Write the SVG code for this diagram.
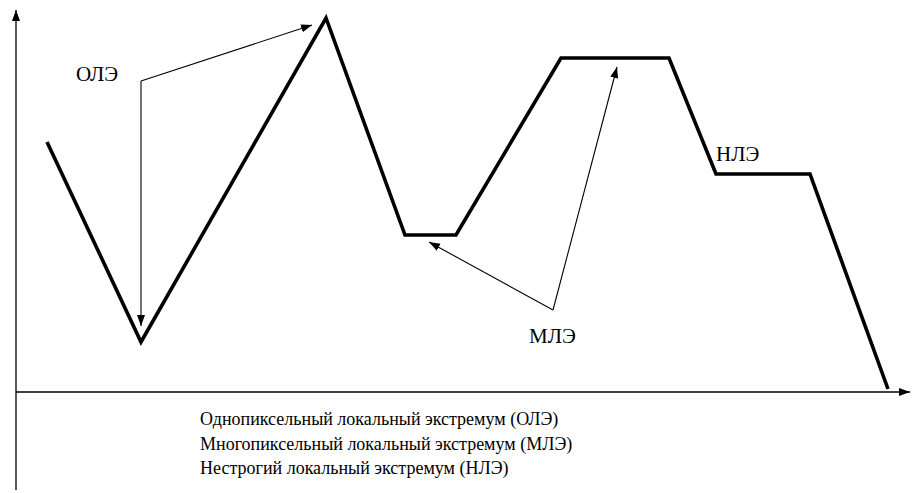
<svg xmlns="http://www.w3.org/2000/svg" width="912" height="493" viewBox="0 0 912 493">
<style>
.t{font-family:'Liberation Serif','Times New Roman','DejaVu Serif',serif;fill:#000}
.lbl{font-size:21px}
.leg{font-size:18px}
</style>
<defs>
<marker id="ah" markerWidth="12" markerHeight="10" refX="11" refY="5" orient="auto" markerUnits="userSpaceOnUse">
<path d="M0,1 L11,5 L0,9 Z" fill="#000"/>
</marker>
</defs>
<g id="axes" stroke="#000" stroke-width="1.3" fill="none">
<line x1="16" y1="490" x2="16" y2="10" marker-end="url(#ah)"/>
<line x1="16" y1="392" x2="910" y2="392" marker-end="url(#ah)"/>
</g>
<g id="curve">
<polyline stroke="#000" stroke-width="3.6" fill="none" points="47,142 141,342 326,18 405,235 456,235 561,58 669,58 716,174 810,174 888,389"/>
</g>
<g id="connectors" stroke="#000" stroke-width="1.1" fill="none">
<line x1="141" y1="81" x2="312" y2="25" marker-end="url(#ah)"/>
<line x1="141" y1="81" x2="141" y2="326" marker-end="url(#ah)"/>
<line x1="553" y1="310" x2="429" y2="242" marker-end="url(#ah)"/>
<line x1="553" y1="310" x2="617" y2="67" marker-end="url(#ah)"/>
</g>
<g id="label-ole"><text class="t lbl" x="76" y="81">ОЛЭ</text></g>
<g id="label-mle"><text class="t lbl" x="529" y="343">МЛЭ</text></g>
<g id="label-nle"><text class="t lbl" x="716" y="161">НЛЭ</text></g>
<g id="legend">
<text class="t leg" x="200" y="425">Однопиксельный локальный экстремум (ОЛЭ)</text>
<text class="t leg" x="200" y="450">Многопиксельный локальный экстремум (МЛЭ)</text>
<text class="t leg" x="200" y="474">Нестрогий локальный экстремум (НЛЭ)</text>
</g>
</svg>
